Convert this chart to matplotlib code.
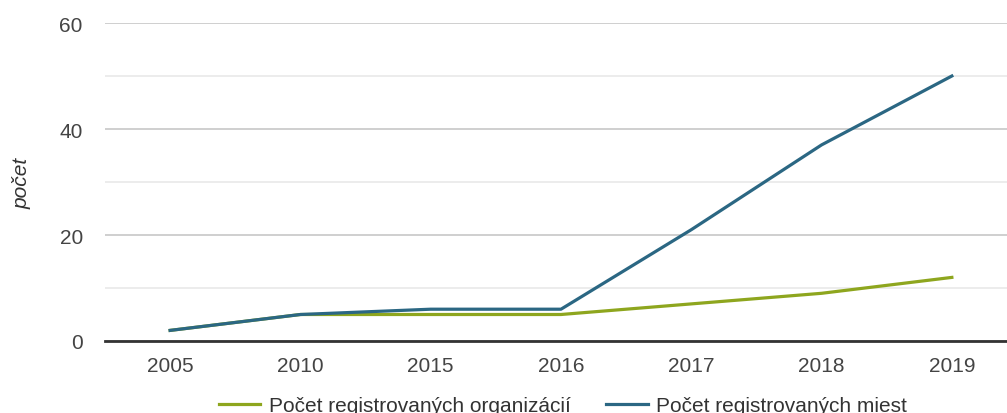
import matplotlib.pyplot as plt

plt.rcParams['font.family'] = ['Liberation Sans', 'DejaVu Sans']

years = ["2005", "2010", "2015", "2016", "2017", "2018", "2019"]
organizacie = [2, 5, 5, 5, 7, 9, 12]
miesta = [2, 5, 6, 6, 21, 37, 50]

green = "#8ea61e"
blue = "#2b6783"

fig = plt.figure(figsize=(10.07, 4.14), dpi=100)
ax = fig.add_axes([105 / 1007, 72 / 414, 912 / 1007, 318 / 414])

x = range(len(years))
ax.plot(x, organizacie, color=green, lw=2.3, label="Počet registrovaných organizácií")
ax.plot(x, miesta, color=blue, lw=2.3, label="Počet registrovaných miest")

ax.set_xlim(-0.5, len(years) - 0.5)
ax.set_ylim(0, 60)
ax.set_yticks([0, 20, 40, 60])
ax.set_yticks([10, 30, 50], minor=True)
ax.set_xticks(list(x))
ax.set_xticklabels(years)
ax.grid(axis="y", which="major", color="#cccccc", lw=1.3)
ax.grid(axis="y", which="minor", color="#ebebeb", lw=1.3)
ax.set_axisbelow(True)
for s in ["top", "right", "left"]:
    ax.spines[s].set_visible(False)
ax.spines["bottom"].set_color("#333333")
ax.spines["bottom"].set_linewidth(2)
ax.tick_params(axis="both", which="both", length=0, labelsize=15, colors="#444444")
ax.tick_params(axis="y", pad=16)
ax.tick_params(axis="x", pad=11)
ax.set_ylabel("počet", style="italic", fontsize=15, color="#333333", labelpad=20)

ax.legend(loc="upper center", bbox_to_anchor=(0.502, -0.14), ncol=2, frameon=False,
          fontsize=15, handlelength=2.0, handletextpad=0.4, columnspacing=1.7,
          labelcolor="#333333", borderpad=0)

fig.savefig("out.png", dpi=100)
